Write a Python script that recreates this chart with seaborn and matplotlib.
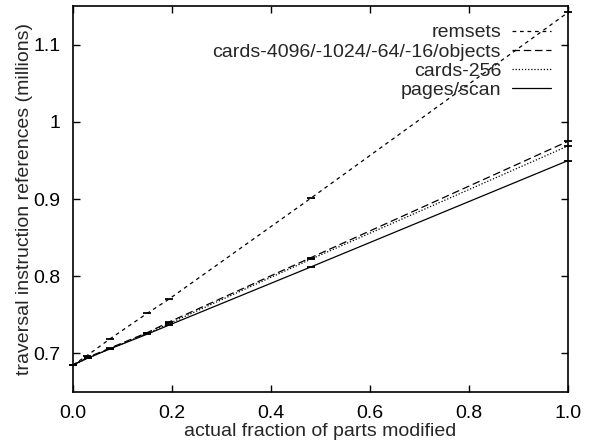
import numpy as np
import pandas as pd
import seaborn as sns
import matplotlib.pyplot as plt

# fraction of parts modified (x) and traversal refs in millions (y)
remsets_x = [0.0, 0.028, 0.075, 0.15, 0.193, 0.48, 1.0]
remsets_y = [0.685, 0.697, 0.719, 0.752, 0.770, 0.901, 1.142]

cards_x = [0.0, 0.03, 0.075, 0.15, 0.195, 0.48, 1.0]
cards_y = [0.685, 0.695, 0.707, 0.727, 0.741, 0.824, 0.975]

cards256_x = [0.0, 0.03, 0.075, 0.15, 0.195, 0.48, 1.0]
cards256_y = [0.685, 0.694, 0.706, 0.726, 0.739, 0.822, 0.969]

pages_x = [0.0, 0.03, 0.075, 0.15, 0.195, 0.48, 1.0]
pages_y = [0.685, 0.694, 0.706, 0.725, 0.737, 0.812, 0.950]

labels = ["remsets", "cards-4096/-1024/-64/-16/objects", "cards-256", "pages/scan"]

frames = []
for lab, xs, ys in zip(labels,
                       [remsets_x, cards_x, cards256_x, pages_x],
                       [remsets_y, cards_y, cards256_y, pages_y]):
    frames.append(pd.DataFrame({"x": xs, "y": ys, "series": lab}))
data = pd.concat(frames, ignore_index=True)

sns.set_theme(style="ticks")
plt.rcParams["font.family"] = ["Liberation Sans", "DejaVu Sans"]

fig = plt.figure(figsize=(5.93, 4.45), dpi=100)
ax = fig.add_axes([0.123, 0.119, 0.835, 0.867])

dashes = {
    "remsets": (3, 3),
    "cards-4096/-1024/-64/-16/objects": (6, 3),
    "cards-256": (1, 1.5),
    "pages/scan": "",
}

sns.lineplot(data=data, x="x", y="y", hue="series", style="series",
             palette=["black"] * 4, dashes=dashes, linewidth=0.9,
             ax=ax, legend=False)

# small error-bar style ticks at each measured point
ax.scatter(data["x"], data["y"], marker="_", s=30, color="black",
           linewidths=1.3, zorder=3, clip_on=False)

for lab in labels:
    ax.plot([], [], color="black", lw=0.9,
            dashes=dashes[lab] if dashes[lab] else (None, None), label=lab)

ax.set_xlim(0, 1.0)
ax.set_ylim(0.65, 1.15)
ax.set_xticks([0.0, 0.2, 0.4, 0.6, 0.8, 1.0])
ax.set_xticklabels(["0.0", "0.2", "0.4", "0.6", "0.8", "1.0"])
ax.set_yticks([0.7, 0.8, 0.9, 1.0, 1.1])
ax.set_yticklabels(["0.7", "0.8", "0.9", "1", "1.1"])
ax.tick_params(direction="in", top=True, right=True, length=5, width=1,
               labelsize=14, colors="black", pad=9)
for s in ax.spines.values():
    s.set_visible(True)
    s.set_linewidth(1.2)
    s.set_color("black")

ax.set_xlabel("actual fraction of parts modified", fontsize=14, labelpad=1)
ax.set_ylabel("traversal instruction references (millions)", fontsize=14, labelpad=0)

ax.legend(loc="upper right", frameon=False, markerfirst=False, fontsize=14,
          handlelength=2.0, handletextpad=0.55, labelspacing=0.08,
          borderpad=0.4, borderaxespad=0.5)

fig.savefig("out.png", dpi=100)
